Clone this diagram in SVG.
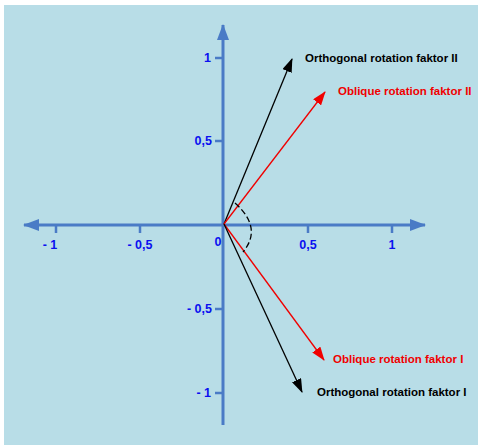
<svg xmlns="http://www.w3.org/2000/svg" width="478" height="445" viewBox="0 0 478 445">
<defs>
<style>
.ax{stroke:#4a7bc6;stroke-width:3;fill:none}
.tk{stroke:#4a7bc6;stroke-width:2.5;fill:none}
.lab{font-family:"Liberation Sans",Arial,sans-serif;font-weight:bold;font-size:12.5px;fill:#0a10f0}
.vl{font-family:"Liberation Sans",Arial,sans-serif;font-weight:bold;font-size:11.5px}
.blk{stroke:#000;stroke-width:1.3;fill:none}
.red{stroke:#f00000;stroke-width:1.3;fill:none}
</style>
<marker id="ah" markerWidth="16" markerHeight="12" refX="15" refY="6" orient="auto" markerUnits="userSpaceOnUse"><path d="M0,0 L16,6 L0,12 Z" fill="#4a7bc6"/></marker>
<marker id="bk" markerWidth="14" markerHeight="10" refX="13" refY="5" orient="auto" markerUnits="userSpaceOnUse"><path d="M0,0 L14,5 L0,10 Z" fill="#000"/></marker>
<marker id="rd" markerWidth="14" markerHeight="10" refX="13" refY="5" orient="auto" markerUnits="userSpaceOnUse"><path d="M0,0 L14,5 L0,10 Z" fill="#f00000"/></marker>
</defs>
<rect x="4" y="5" width="474" height="440" fill="#b8dde7"/>
<g id="axes">
<line class="ax" x1="224" y1="225" x2="24" y2="225" marker-end="url(#ah)"/>
<line class="ax" x1="224" y1="225" x2="425" y2="225" marker-end="url(#ah)"/>
<line class="ax" x1="223" y1="224" x2="223" y2="25" marker-end="url(#ah)"/>
<line class="ax" x1="223" y1="224" x2="223" y2="425"/>
<path class="tk" d="M56,225 V233 M140,225 V233 M308,225 V233 M392,225 V233 M215,58 H223 M215,141 H223 M215,309 H223 M215,393 H223"/>
</g>
<g id="axis-labels">
<text class="lab" x="50" y="249" text-anchor="middle">- 1</text>
<text class="lab" x="140" y="249" text-anchor="middle">- 0,5</text>
<text class="lab" x="218" y="246" text-anchor="middle">0</text>
<text class="lab" x="308" y="249" text-anchor="middle">0,5</text>
<text class="lab" x="392" y="249" text-anchor="middle">1</text>
<text class="lab" x="211" y="62" text-anchor="end">1</text>
<text class="lab" x="212" y="145" text-anchor="end">0,5</text>
<text class="lab" x="212" y="313" text-anchor="end">- 0,5</text>
<text class="lab" x="211" y="397" text-anchor="end">- 1</text>
</g>
<g id="connectors">
<line class="blk" x1="224" y1="224" x2="292" y2="59" marker-end="url(#bk)"/>
<line class="red" x1="224" y1="224" x2="325" y2="92" marker-end="url(#rd)"/>
<line class="red" x1="224" y1="224" x2="324" y2="360" marker-end="url(#rd)"/>
<line class="blk" x1="224" y1="224" x2="302" y2="392" marker-end="url(#bk)"/>
<path class="blk" d="M235,203 Q263,228 243,252" stroke-dasharray="6,3"/>
</g>
<g id="label-orth2"><text class="vl" x="305" y="62" fill="#000">Orthogonal rotation faktor II</text></g>
<g id="label-obl2"><text class="vl" x="338" y="95" fill="#f00000">Oblique rotation faktor II</text></g>
<g id="label-obl1"><text class="vl" x="333" y="363" fill="#f00000">Oblique rotation faktor I</text></g>
<g id="label-orth1"><text class="vl" x="317" y="396" fill="#000">Orthogonal rotation faktor I</text></g>
</svg>
